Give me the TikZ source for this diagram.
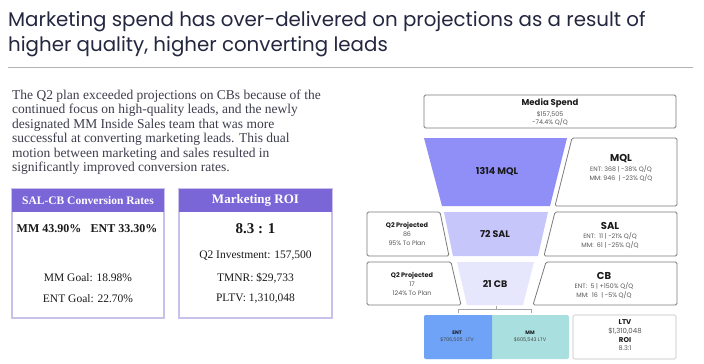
\documentclass[tikz,border=0pt]{standalone}
\usepackage{fontspec}
\setmainfont{Liberation Serif}
\newfontfamily\geo{Poppins}
\definecolor{titlec}{HTML}{23273F}
\definecolor{parac}{HTML}{3D3D4D}
\definecolor{hdrc}{HTML}{7A66D6}
\definecolor{bordc}{HTML}{C9C1EA}
\definecolor{mqlc}{HTML}{8F8FF7}
\definecolor{salc}{HTML}{C6C6FB}
\definecolor{cbc}{HTML}{E6E6FD}
\definecolor{entc}{HTML}{6FA3F8}
\definecolor{mmc}{HTML}{A9E0DF}
\definecolor{fgray}{HTML}{7A7A7A}
\definecolor{ftext}{HTML}{1A1A1A}
\definecolor{fsmall}{HTML}{555555}
\tikzset{
  ttl/.style={anchor=base west, inner sep=0, text=titlec, font=\geo\fontsize{19.8}{24}\selectfont},
  para/.style={anchor=base west, inner sep=0, text=parac, font=\fontsize{13.5}{15}\selectfont},
  hdr/.style={inner sep=0, text=white, font=\bfseries\fontsize{11.5}{14}\selectfont},
  btxt/.style={inner sep=0, text=ftext, font=\fontsize{11.5}{14}\selectfont},
  bbold/.style={inner sep=0, text=ftext, font=\bfseries\fontsize{12}{14}\selectfont},
  sbox/.style={draw=fgray, line width=0.8pt, fill=white, rounded corners=1.5pt},
  fbig/.style={inner sep=0, text=ftext, font=\geo\bfseries\fontsize{9.5}{11}\selectfont},
  fhead/.style={inner sep=0, text=ftext, font=\geo\bfseries\fontsize{9.5}{11}\selectfont},
  fsm/.style={inner sep=0, text=fsmall, font=\geo\fontsize{6.3}{7.5}\selectfont},
  fsb/.style={inner sep=0, text=ftext, font=\geo\bfseries\fontsize{6.5}{7.5}\selectfont},
}
\begin{document}
\begin{tikzpicture}[x=1pt,y=-1pt]
\useasboundingbox[fill=white] (0,0) rectangle (704,364);
% title
\node[ttl] (t1) at (8,26) {Marketing spend has over-delivered on projections as a result of};
\node[ttl] (t2) at (8,51) {higher quality, higher converting leads};
\draw[color=gray!60, line width=1pt] (8,67) -- (693,67);
% paragraph
\node[para] (p1) at (12,99) {The Q2 plan exceeded projections on CBs because of the};
\node[para] (p2) at (12,113.5) {continued focus on high-quality leads, and the newly};
\node[para] (p3) at (12,128) {designated MM Inside Sales team that was more};
\node[para] (p4) at (12,142.5) {successful at converting marketing leads. This dual};
\node[para] (p5) at (12,157) {motion between marketing and sales resulted in};
\node[para] (p6) at (12,171.5) {significantly improved conversion rates.};
% box 1
\draw[bordc, line width=1.2pt] (12,189) rectangle (164,318);
\fill[hdrc] (12,189) rectangle (164,212);
\node[hdr] (h1) at (88,200.5) {SAL-CB Conversion Rates};
\node[bbold] (b1a) at (49,229) {MM 43.90\%};
\node[bbold] (b1b) at (124,229) {ENT 33.30\%};
\node[btxt] (b1c) at (88,278) {MM Goal: 18.98\%};
\node[btxt] (b1d) at (88,299) {ENT Goal: 22.70\%};
% box 2
\draw[bordc, line width=1.2pt] (179,189) rectangle (332,318);
\fill[hdrc] (179,189) rectangle (332,212);
\node[hdr, font=\bfseries\fontsize{13}{15}\selectfont] (h2) at (255.5,200.5) {Marketing ROI};
\node[bbold, font=\bfseries\fontsize{15}{17}\selectfont] (b2a) at (255.5,229) {8.3 : 1};
\node[btxt] (b2b) at (255.5,256) {Q2 Investment: 157,500};
\node[btxt] (b2c) at (255.5,278) {TMNR: \$29,733};
\node[btxt] (b2d) at (255.5,299) {PLTV: 1,310,048};
% media spend
\draw[sbox] (424,95) rectangle (676,128);
\node[fhead, font=\geo\bfseries\fontsize{8.5}{10}\selectfont] (ms1) at (550,103) {Media Spend};
\node[fsm] (ms2) at (550,114) {\$157,505};
\node[fsm] (ms3) at (550,122.5) {-74.4\% Q/Q};
% MQL
\fill[mqlc] (424,138) -- (567,138) -- (550,206) -- (442,206) -- cycle;
\node[fbig] (mq) at (497,172) {1314 MQL};
\draw[sbox] (572,138) -- (677,138) -- (677,206) -- (555,206) -- cycle;
\node[fhead, font=\geo\bfseries\fontsize{10}{12}\selectfont] (mqh) at (621,159) {MQL};
\node[fsm] (mq1) at (621,169) {ENT: 368 | -38\% Q/Q};
\node[fsm] (mq2) at (621,178) {MM: 946 \ | -23\% Q/Q};
% SAL
\draw[sbox] (367,212) -- (440,212) -- (449,256) -- (367,256) -- cycle;
\node[fsb] (s1) at (407,226) {Q2 Projected};
\node[fsm] (s2) at (407,234.5) {86};
\node[fsm] (s3) at (407,243) {95\% To Plan};
\fill[salc] (444,212) -- (548,212) -- (538,256) -- (453,256) -- cycle;
\node[fbig] (sl) at (495,234) {72 SAL};
\draw[sbox] (555,212) -- (677,212) -- (677,256) -- (544,256) -- cycle;
\node[fhead, font=\geo\bfseries\fontsize{10}{12}\selectfont] (slh) at (610,226) {SAL};
\node[fsm] (sl1) at (610,236) {ENT: \ 11 | -21\% Q/Q};
\node[fsm] (sl2) at (610,245) {MM: \ 61 | -25\% Q/Q};
% CB
\draw[sbox] (367,262) -- (451,262) -- (461,305) -- (367,305) -- cycle;
\node[fsb] (c1) at (412,276) {Q2 Projected};
\node[fsm] (c2) at (412,284.5) {17};
\node[fsm] (c3) at (412,293) {124\% To Plan};
\fill[cbc] (457,262) -- (534,262) -- (523,305) -- (467,305) -- cycle;
\node[fbig] (cb) at (495,284) {21 CB};
\draw[sbox] (546,262) -- (677,262) -- (677,305) -- (533,305) -- cycle;
\node[fhead, font=\geo\bfseries\fontsize{10}{12}\selectfont] (cbh) at (604,276) {CB};
\node[fsm] (cb1) at (604,286) {ENT: \ 5 | +150\% Q/Q};
\node[fsm] (cb2) at (604,295) {MM: \ 16 \ | -5\% Q/Q};
% bracket
\coordinate (bl) at (458,313);
\coordinate (br) at (531,313);
\coordinate (bm) at (496,306);
\draw[gray!70, line width=0.6pt] (bl) -- ++(0,-4) -| (br);
\draw[gray!70, line width=0.6pt] (bm) -- ++(0,3);
% LTV split
\fill[mmc, rounded corners=2pt] (424,315) rectangle (569,359);
\fill[entc, rounded corners=2pt] (424,315) rectangle (492,359);
\fill[entc] (486,315) rectangle (492,359);
\node[inner sep=0, text=ftext, font=\geo\bfseries\fontsize{5}{6}\selectfont] (e1) at (457,333) {ENT};
\node[inner sep=0, text=ftext!80, font=\geo\fontsize{5}{6}\selectfont] (e2) at (457,340) {\$706,505 \ LTV};
\node[inner sep=0, text=ftext, font=\geo\bfseries\fontsize{5}{6}\selectfont] (m1) at (530,333) {MM};
\node[inner sep=0, text=ftext!80, font=\geo\fontsize{5}{6}\selectfont] (m2) at (530,340) {\$605,543 LTV};
\draw[draw=gray!50, line width=0.6pt, rounded corners=1.5pt] (573,315) rectangle (676,359);
\node[inner sep=0, text=ftext, font=\geo\bfseries\fontsize{7}{8}\selectfont] (l1) at (625,322) {LTV};
\node[inner sep=0, text=fsmall, font=\geo\fontsize{7}{8}\selectfont] (l2) at (625,331) {\$1,310,048};
\node[inner sep=0, text=ftext, font=\geo\bfseries\fontsize{7}{8}\selectfont] (l3) at (625,340) {ROI};
\node[inner sep=0, text=fsmall, font=\geo\fontsize{6.5}{8}\selectfont] (l4) at (625,348) {8.3:1};
\end{tikzpicture}
\end{document}
